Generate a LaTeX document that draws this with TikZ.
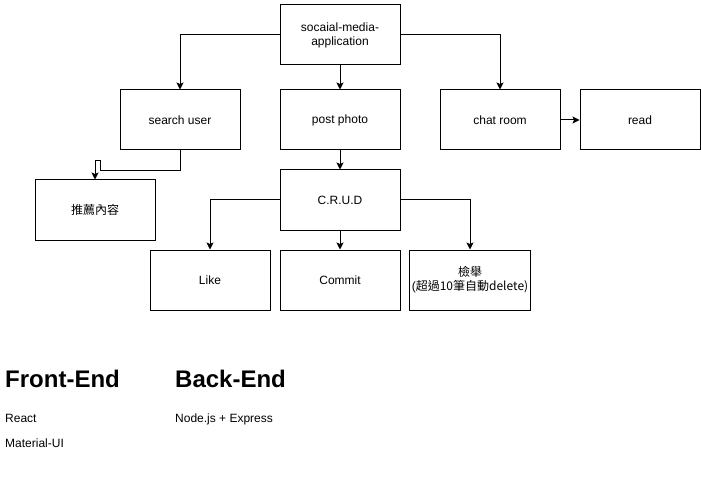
\documentclass[tikz,border=0pt]{standalone}
\usepackage{fontspec}
\setmainfont{Liberation Sans}
\newfontfamily\cjk{Noto Sans CJK TC}
\usetikzlibrary{arrows.meta}
\tikzset{
    box/.style={draw, line width=1pt, minimum width=120pt, minimum height=60pt, align=center, inner sep=2pt, font=\fontsize{12pt}{14pt}\selectfont},
    arr/.style={line width=1pt, -{Stealth[length=7pt, width=7pt, inset=1.5pt]}},
    heading/.style={anchor=base west, inner sep=0pt, font=\fontsize{24pt}{28pt}\selectfont\bfseries},
    plain/.style={anchor=base west, inner sep=0pt, font=\fontsize{12pt}{14pt}\selectfont}
}

\begin{document}
\begin{tikzpicture}[x=1pt, y=-1pt]
    \useasboundingbox (0,0) rectangle (701,481);
    % top level
    \node[box] (app) at (340,35) {socaial-media-\\application};
    \node[box] (search) at (180,120) {search user};
    \node[box] (post) at (340,120) {post photo};
    \node[box] (chat) at (500,120) {chat room};
    \node[box] (read) at (640,120) {read};
    \node[box] (recommend) at (95,210) {\cjk{推薦內容}};
    % post photo branch
    \node[box] (crud) at (340,200) {C.R.U.D};
    \node[box] (like) at (210,280) {Like};
    \node[box] (commit) at (340,280) {Commit};
    \node[box] (report) at (470,280) {\cjk{檢舉}\\(\cjk{超過}10\cjk{筆自動}delete)};

    \draw[arr] (app.west) -| (search.north);
    \draw[arr] (app.south) -- (post.north);
    \draw[arr] (app.east) -| (chat.north);
    \draw[arr] (chat.east) -- (read.west);
    \draw[arr] (search.south) -- ++(0,20) -- ++(-80,0) -- ++(0,-10) -| (recommend.north); % odd bend
    \draw[arr] (post.south) -- (crud.north);
    \draw[arr] (crud.west) -| (like.north);
    \draw[arr] (crud.south) -- (commit.north);
    \draw[arr] (crud.east) -| (report.north);

    % stack
    \node[heading] (front) at (5,387) {Front-End};
    \node[heading] (back) at (175,387) {Back-End};
    \node[plain] (react) at (5,422) {React};
    \node[plain] (mui) at (5,447) {Material-UI};
    \node[plain] (node) at (175,422) {Node.js + Express};
\end{tikzpicture}
\end{document}
